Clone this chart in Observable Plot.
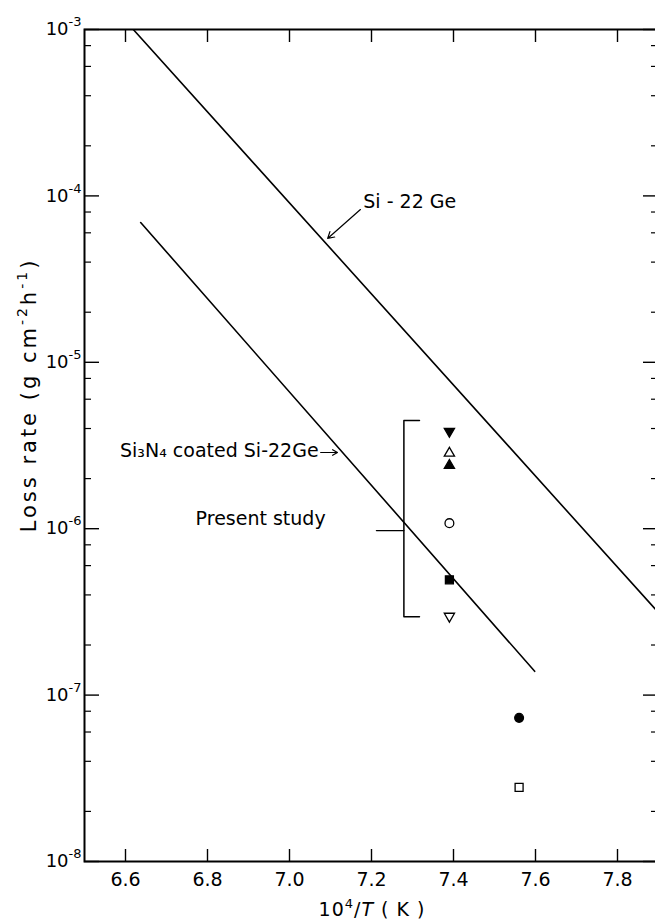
<!DOCTYPE html>
<html><head><meta charset="utf-8">
<script src="https://cdn.jsdelivr.net/npm/d3@7"></script>
<script src="https://cdn.jsdelivr.net/npm/@observablehq/plot@0.6"></script>
<style>
html,body{margin:0;padding:0;background:#fff;overflow:hidden}
#chart{width:655px;height:920px;overflow:hidden}
#chart svg{max-width:none !important;display:block}
</style></head><body><div id="chart"></div>
<script>
// ---- data ----
const xTicks = [6.6, 6.8, 7.0, 7.2, 7.4, 7.6, 7.8];
const xTickLabels = ["6.6", "6.8", "7.0", "7.2", "7.4", "7.6", "7.8"];
const yDecades = [1e-8, 1e-7, 1e-6, 1e-5, 1e-4, 1e-3];
const yDecadeLabels = ["10^-8", "10^-7", "10^-6", "10^-5", "10^-4", "10^-3"];
const yMinorMultipliers = [2, 4, 6, 8];

// Si-22Ge line (endpoints)
const si22GeX = [6.619, 7.9];
const si22GeY = [1e-3, 3.13e-7];
// Si3N4 coated Si-22Ge line (endpoints)
const coatedX = [6.637, 7.598];
const coatedY = [6.92e-5, 1.39e-7];

// Present study points
const studyX = [7.39, 7.39, 7.39, 7.39, 7.39, 7.39, 7.56, 7.56];
const studyY = [3.85e-6, 2.84e-6, 2.40e-6, 1.08e-6, 4.93e-7, 2.98e-7, 7.3e-8, 2.79e-8];
const studyShape = ["tdown", "tup", "tup", "circle", "square", "tdown", "circle", "square"];
const studyFilled = [true, false, true, false, true, false, true, false];

// bracket for "Present study"
const bracketX = [7.317, 7.279, 7.279, 7.317];
const bracketY = [4.47e-6, 4.47e-6, 2.96e-7, 2.96e-7];
const bracketTickX = [7.212, 7.279];
const bracketTickY = [9.75e-7, 9.75e-7];

// annotation arrows
const arrowSiGe = {x1: 7.173, y1: 8.28e-5, x2: 7.093, y2: 5.55e-5};
const arrowCoated = {x1: 7.076, y1: 2.87e-6, x2: 7.117, y2: 2.87e-6};

// labels
const labels = [
  {text: "Si - 22 Ge", x: 7.180, y: 9.24e-5, anchor: "start"},
  {text: "Si₃N₄ coated Si-22Ge", x: 7.071, y: 2.95e-6, anchor: "end"},
  {text: "Present study", x: 6.771, y: 1.14e-6, anchor: "start"}
];

// ---- build ----
const W = 660, H = 920, mL = 84, mR = 2, mT = 29, mB = 59;
const fw = W - mL - mR, fh = H - mT - mB;
const FONT = "DejaVu Sans, sans-serif";

const yMinor = [];
for (const d of yDecades.slice(0, -1)) for (const m of yMinorMultipliers) yMinor.push(d * m);

const pts = studyX.map((x, i) => ({x, y: studyY[i], shape: studyShape[i], filled: studyFilled[i]}));
const triDown = {
  draw(ctx, size) {
    const s3 = Math.sqrt(3);
    const y = -Math.sqrt(size / (s3 * 3));
    ctx.moveTo(0, -y * 2);
    ctx.lineTo(-s3 * y, y);
    ctx.lineTo(s3 * y, y);
    ctx.closePath();
  }
};
const symbolFor = {tdown: triDown, tup: "triangle", circle: "circle", square: "square"};
const rFor = {tdown: 3.8, tup: 3.8, circle: 4.4, square: 4.5};

const dotMarks = [];
for (const shape of ["tdown", "tup", "circle", "square"]) {
  for (const filled of [true, false]) {
    const sub = pts.filter(p => p.shape === shape && p.filled === filled);
    if (!sub.length) continue;
    dotMarks.push(Plot.dot(sub, {
      x: "x", y: "y", symbol: symbolFor[shape], r: rFor[shape],
      fill: filled ? "black" : "white", stroke: "black", strokeWidth: 1.3
    }));
  }
}

const labelMap = new Map(yDecades.map((d, i) => [d, yDecadeLabels[i]]));
const xLabelMap = new Map(xTicks.map((d, i) => [d, xTickLabels[i]]));

const chart = Plot.plot({
  width: W, height: H,
  marginLeft: mL, marginRight: mR, marginTop: mT, marginBottom: mB,
  style: {fontFamily: FONT, background: "white", color: "black", maxWidth: "none"},
  x: {domain: [6.5, 7.9], axis: null},
  y: {type: "log", domain: [1e-8, 1e-3], axis: null},
  marks: [
    // tick labels
    Plot.axisX({ticks: xTicks, tickSize: 0, tickPadding: 11, fontSize: 19,
      tickFormat: d => xLabelMap.get(d), label: null}),
    Plot.axisY({ticks: yDecades, tickSize: 0, tickPadding: 3, fontSize: 18,
      tickFormat: d => labelMap.get(d), label: null}),
    // inward ticks
    Plot.tickY(yDecades, {y: d => d, insetRight: fw - 15, strokeWidth: 1.4}),
    Plot.tickY(yMinor, {y: d => d, insetRight: fw - 7, strokeWidth: 1.2}),
    Plot.tickY(yDecades, {y: d => d, insetLeft: fw - 15, strokeWidth: 1.4}),
    Plot.tickY(yMinor, {y: d => d, insetLeft: fw - 7, strokeWidth: 1.2}),
    Plot.tickX(xTicks, {x: d => d, insetTop: fh - 12, strokeWidth: 1.4}),
    Plot.tickX(xTicks, {x: d => d, insetBottom: fh - 13, strokeWidth: 1.4}),
    Plot.frame({stroke: "black", strokeWidth: 2}),
    // lines
    Plot.line(si22GeX.map((x, i) => ({x, y: si22GeY[i]})), {x: "x", y: "y", stroke: "black", strokeWidth: 1.6, clip: true}),
    Plot.line(coatedX.map((x, i) => ({x, y: coatedY[i]})), {x: "x", y: "y", stroke: "black", strokeWidth: 1.6}),
    // bracket
    Plot.line(bracketX.map((x, i) => ({x, y: bracketY[i]})), {x: "x", y: "y", stroke: "black", strokeWidth: 1.5}),
    Plot.line(bracketTickX.map((x, i) => ({x, y: bracketTickY[i]})), {x: "x", y: "y", stroke: "black", strokeWidth: 1.3}),
    // arrows
    Plot.arrow([arrowSiGe], {x1: "x1", y1: "y1", x2: "x2", y2: "y2", stroke: "black", strokeWidth: 1.2, headLength: 9}),
    Plot.arrow([arrowCoated], {x1: "x1", y1: "y1", x2: "x2", y2: "y2", stroke: "black", strokeWidth: 1.2, headLength: 8}),
    // text labels
    ...labels.map(l => Plot.text([l], {x: "x", y: "y", text: "text", textAnchor: l.anchor, lineAnchor: "middle", fontSize: 19, fill: "black"})),
    ...dotMarks
  ]
});
chart.style.maxWidth = "none";

const svg = d3.select(chart);

// turn "10^-3" tick labels into 10 with a superscript exponent
svg.selectAll('g[aria-label="y-axis tick label"] text').each(function () {
  const t = d3.select(this);
  const [base, exp] = t.text().split("^");
  t.text(null);
  t.append("tspan").text(base);
  t.append("tspan").attr("font-size", 13).attr("dy", -9).text(exp);
});

// x axis label: 10^4 / T (K)
const xl = svg.append("text")
  .attr("x", 372).attr("y", 916)
  .attr("text-anchor", "middle")
  .attr("font-family", FONT).attr("font-size", 19).attr("fill", "black")
  .attr("letter-spacing", 1);
xl.append("tspan").text("10");
xl.append("tspan").attr("font-size", 13).attr("dy", -8).text("4");
xl.append("tspan").attr("dy", 8).text("/");
xl.append("tspan").attr("font-style", "italic").text("T");
xl.append("tspan").text(" ( K )");

// y axis label
const yl = svg.append("text")
  .attr("transform", "translate(36,395) rotate(-90)")
  .attr("text-anchor", "middle")
  .attr("font-family", FONT).attr("font-size", 21).attr("fill", "black")
  .attr("letter-spacing", 3);
yl.append("tspan").text("Loss rate (g cm");
yl.append("tspan").attr("font-size", 14).attr("dy", -9).text("-2");
yl.append("tspan").attr("dy", 9).text("h");
yl.append("tspan").attr("font-size", 14).attr("dy", -9).text("-1");
yl.append("tspan").attr("dy", 9).text(")");

document.getElementById("chart").appendChild(chart);
</script></body></html>
